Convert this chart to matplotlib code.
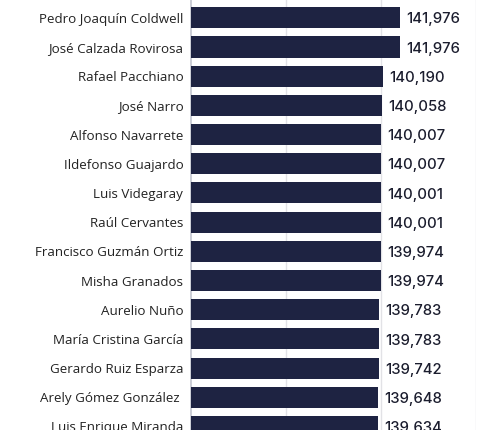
import matplotlib.pyplot as plt
import numpy as np

names = ["Pedro Joaquín Coldwell", "José Calzada Rovirosa", "Rafael Pacchiano",
         "José Narro", "Alfonso Navarrete", "Ildefonso Guajardo", "Luis Videgaray",
         "Raúl Cervantes", "Francisco Guzmán Ortiz", "Misha Granados", "Aurelio Nuño",
         "María Cristina García", "Gerardo Ruiz Esparza", "Arely Gómez González ",
         "Luis Enrique Miranda"]
salaries = [141976, 141976, 140190, 140058, 140007, 140007, 140001, 140001,
            139974, 139974, 139783, 139783, 139742, 139648, 139634]
grid_ticks = [130000, 140000, 150000]

bar_color = "#1e2342"

fig = plt.figure(figsize=(4.98, 4.3), dpi=100)
ax = fig.add_axes([191 / 498, 0, 285 / 498, 1])

y = np.arange(len(names))
ax.barh(y, salaries, height=0.72, color=bar_color, zorder=3)

# labels after each bar
for yi, v in zip(y, salaries):
    ax.annotate(f"{v:,}", (v, yi), xytext=(4.5, -1.2), textcoords="offset points",
                va="center", ha="left", fontsize=10.7, fontfamily="Inter",
                fontweight="medium", color="#1b1d2e")

ax.set_xlim(120000, 150000)
ax.set_ylim(14.12, -0.61)
ax.set_xticks(grid_ticks)
ax.xaxis.grid(True, color="#e2e2e6", linewidth=1, zorder=0)
ax.tick_params(axis="x", length=0, labelbottom=False)
ax.set_yticks(y)
ax.set_yticklabels(names, fontfamily="Open Sans", fontsize=9.6, color="#222222")
ax.tick_params(axis="y", length=0, pad=5.5)

for side in ["top", "bottom", "right"]:
    ax.spines[side].set_visible(False)
ax.spines["left"].set_color("#c4c6d0")
ax.spines["left"].set_linewidth(1.2)

fig.savefig("out.png", dpi=100)
